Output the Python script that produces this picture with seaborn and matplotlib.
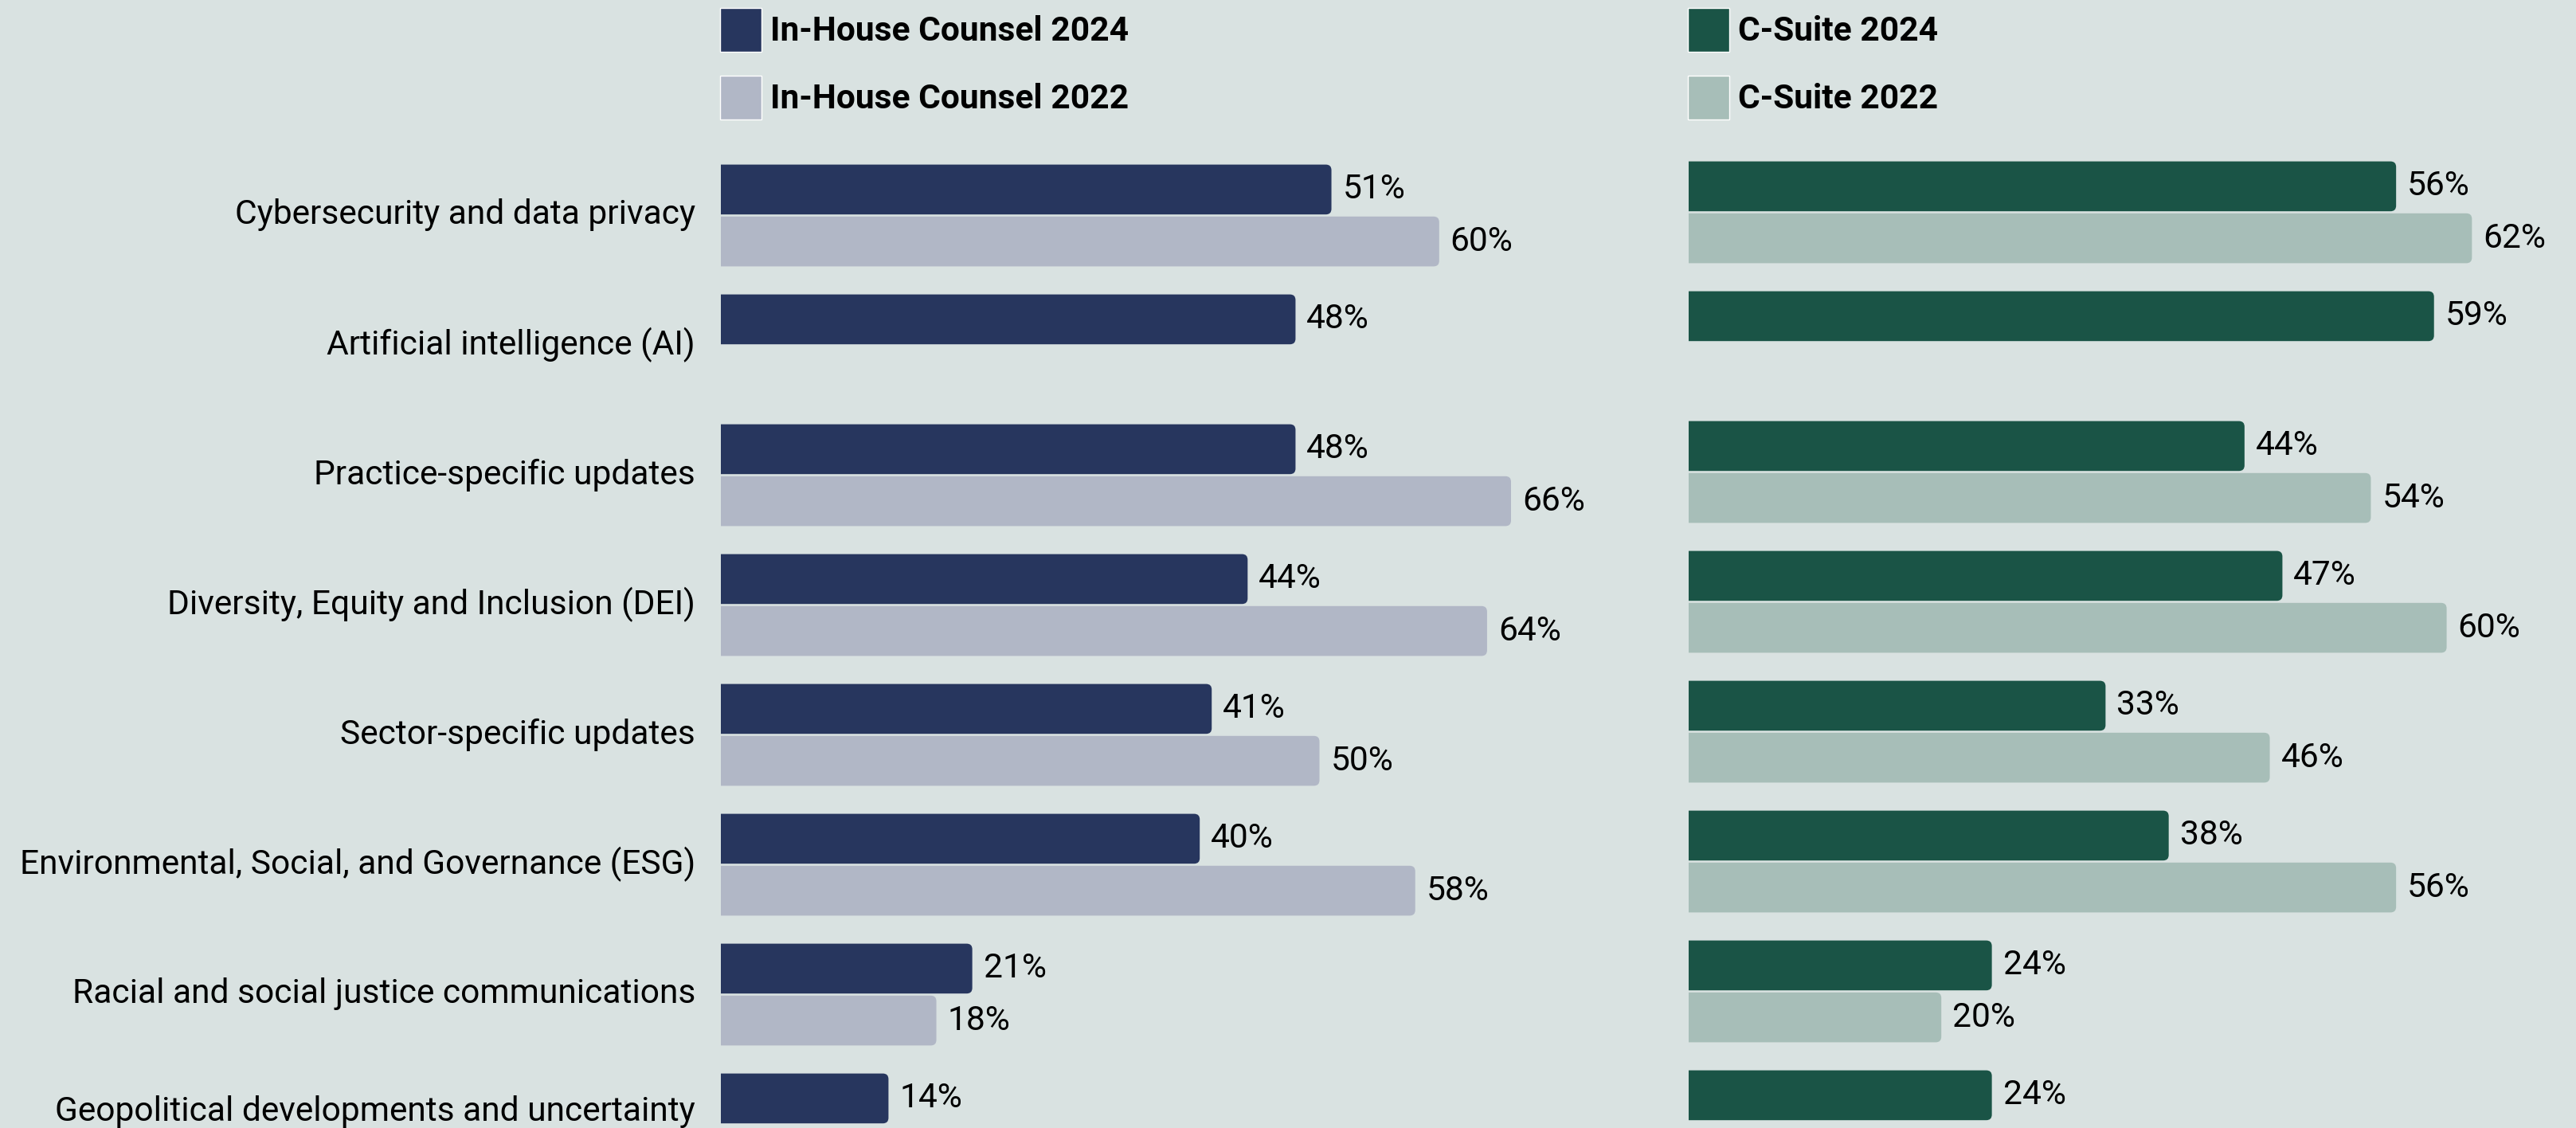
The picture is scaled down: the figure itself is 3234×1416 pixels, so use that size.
import numpy as np
import pandas as pd
import seaborn as sns
import matplotlib.pyplot as plt
from matplotlib.patches import FancyBboxPatch
from matplotlib.transforms import ScaledTranslation

# Topics, top to bottom
topics = [
    "Cybersecurity and data privacy",
    "Artificial intelligence (AI)",
    "Practice-specific updates",
    "Diversity, Equity and Inclusion (DEI)",
    "Sector-specific updates",
    "Environmental, Social, and Governance (ESG)",
    "Racial and social justice communications",
    "Geopolitical developments and uncertainty",
]

# Share of respondents (%); NaN = topic not asked that year
counsel_2024 = [51, 48, 48, 44, 41, 40, 21, 14]
counsel_2022 = [60, np.nan, 66, 64, 50, 58, 18, np.nan]
csuite_2024 = [56, 59, 44, 47, 33, 38, 24, 24]
csuite_2022 = [62, np.nan, 54, 60, 46, 56, 20, np.nan]

BG = "#D9E2E1"
NAVY, NAVY_LIGHT = "#27365E", "#B1B7C6"
GREEN, GREEN_LIGHT = "#1A5446", "#A7BEB8"

sns.set_theme(style="white")
plt.rcParams["font.family"] = ["Roboto", "DejaVu Sans"]
plt.rcParams["text.color"] = "#000000"

W, H = 3234, 1416
fig = plt.figure(figsize=(W / 100, H / 100), dpi=100, facecolor=BG)

FS = 30.6  # pt
PITCH = 163.0  # px per category row


def long_frame(v24, v22, name24, name22):
    df = pd.DataFrame({
        "topic": topics * 2,
        "group": [name24] * len(topics) + [name22] * len(topics),
        "value": list(v24) + list(v22),
    })
    return df.dropna()


def round_bar_ends(ax, px_per_pct, radius_px=7):
    """Swap each bar for a copy with rounded right-hand corners."""
    r = radius_px / px_per_pct
    aspect = (1 / PITCH) / (1 / px_per_pct)
    for c in ax.containers:
        for p in c.patches:
            x, y = p.get_x(), p.get_y()
            w, h = p.get_width(), p.get_height()
            fb = FancyBboxPatch(
                (x - 2 * r, y), w + 2 * r, h,
                boxstyle=f"round,pad=0,rounding_size={r}",
                mutation_aspect=aspect,
                facecolor=p.get_facecolor(), edgecolor="none",
                zorder=p.get_zorder(),
            )
            ax.add_patch(fb)
            p.set_visible(False)


def panel(x0_px, width_px, px_per_pct, center0_px, v24, v22, names, colors, show_labels):
    ax = fig.add_axes([x0_px / W, 0, width_px / W, 1])
    ax.set_facecolor(BG)
    df = long_frame(v24, v22, *names)
    sns.barplot(
        data=df, y="topic", x="value", hue="group", order=topics,
        hue_order=list(names), palette=list(colors), orient="h",
        width=0.8, gap=0.04, errorbar=None, ax=ax, saturation=1,
    )
    ax.set_ylim((H - center0_px) / PITCH, -center0_px / PITCH)
    ax.set_xlim(0, width_px / px_per_pct)
    for c in ax.containers:
        ax.bar_label(c, labels=[f"{v:.0f}%" for v in c.datavalues],
                     padding=10, fontsize=FS, color="#000000")
    round_bar_ends(ax, px_per_pct)
    for s in ax.spines.values():
        s.set_visible(False)
    ax.set_xticks([])
    ax.set_xlabel("")
    ax.set_ylabel("")
    ax.tick_params(axis="y", length=0, pad=23, labelsize=FS, labelcolor="#000000")
    if show_labels:
        labels_ = ax.get_yticklabels()
        for i, t in enumerate(labels_):
            dy = 20 if i == len(labels_) - 1 else 5
            t.set_transform(t.get_transform()
                            + ScaledTranslation(0, dy / 100, fig.dpi_scale_trans))
    else:
        ax.set_yticklabels([])
    handles, labels = ax.get_legend_handles_labels()
    ax.get_legend().remove()
    ax.legend(
        handles, labels, loc="upper left",
        bbox_to_anchor=((x0_px - 1) / W, 1 - 10 / H), bbox_transform=fig.transFigure,
        frameon=False, borderpad=0, borderaxespad=0,
        handlelength=1.22, handleheight=1.6, handletextpad=0.26,
        labelspacing=0.72, labelcolor="#000000",
        prop={"weight": "bold", "size": FS},
    )
    return ax


panel(905, 1100, 15.03, 270.5, counsel_2024, counsel_2022,
      ("In-House Counsel 2024", "In-House Counsel 2022"), (NAVY, NAVY_LIGHT), True)
panel(2120, 1114, 15.86, 266.5, csuite_2024, csuite_2022,
      ("C-Suite 2024", "C-Suite 2022"), (GREEN, GREEN_LIGHT), False)

fig.savefig("out.png", dpi=100, facecolor=BG)
